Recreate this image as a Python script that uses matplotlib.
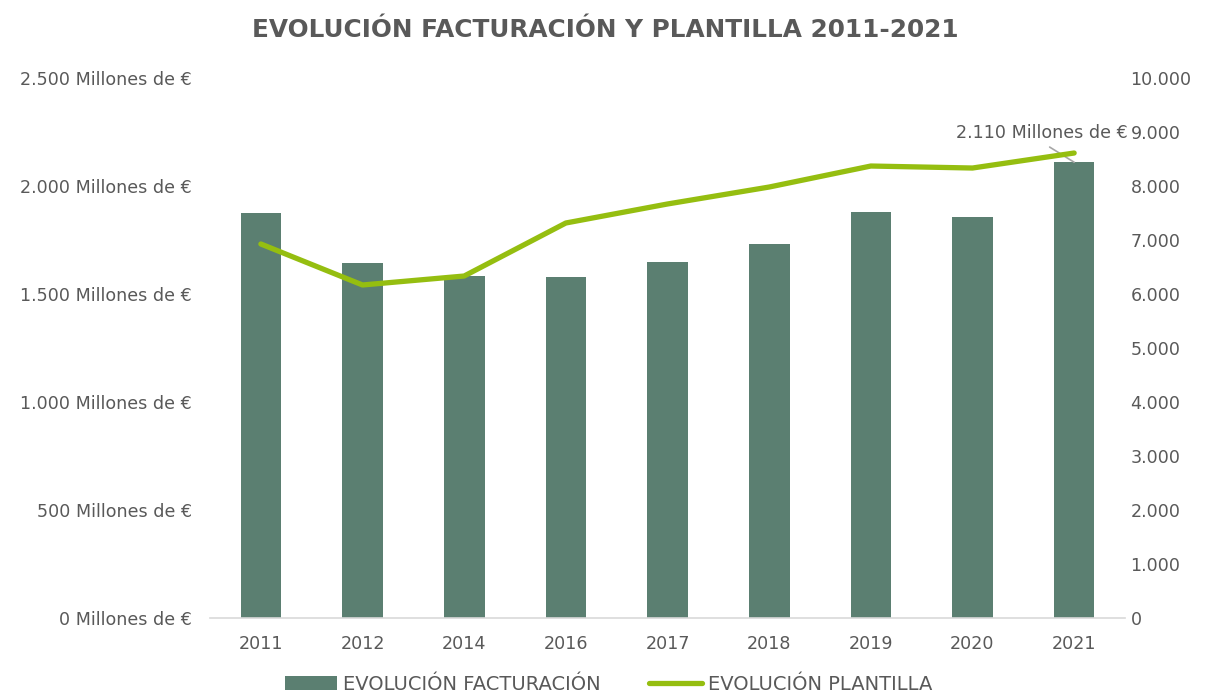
import matplotlib
matplotlib.use("Agg")
import matplotlib.pyplot as plt
import numpy as np
from matplotlib.ticker import FuncFormatter

years = ["2011", "2012", "2014", "2016", "2017", "2018", "2019", "2020", "2021"]
facturacion = [1875, 1643, 1583, 1579, 1648, 1731, 1880, 1856, 2110]  # millones de euros
plantilla = [6926, 6167, 6333, 7315, 7667, 7981, 8370, 8333, 8611]

bar_color = "#5B7F71"
line_color = "#95BE10"
text_color = "#595959"

plt.rcParams["font.family"] = ["DejaVu Sans"]

fig = plt.figure(figsize=(12.05, 6.99), dpi=100)
ax = fig.add_axes([0.1743, 0.1159, 0.7593, 0.7725])
ax2 = ax.twinx()

x = np.arange(len(years))
bars = ax.bar(x, facturacion, width=0.40, color=bar_color, label="EVOLUCIÓN FACTURACIÓN", zorder=2)
line, = ax2.plot(x, plantilla, color=line_color, lw=3.8, solid_capstyle="round",
                 label="EVOLUCIÓN PLANTILLA", zorder=3)

ax.set_xlim(-0.5, len(years) - 0.5)
ax.set_ylim(0, 2500)
ax2.set_ylim(0, 10000)
ax.set_yticks(np.arange(0, 2501, 500))
ax2.set_yticks(np.arange(0, 10001, 1000))

def thousands(v):
    return f"{int(v):,}".replace(",", ".")

ax.yaxis.set_major_formatter(FuncFormatter(lambda v, p: f"{thousands(v)} Millones de €"))
ax2.yaxis.set_major_formatter(FuncFormatter(lambda v, p: thousands(v)))
ax.set_xticks(x)
ax.set_xticklabels(years)

for a in (ax, ax2):
    for s in ("top", "left", "right", "bottom"):
        a.spines[s].set_visible(False)
    a.tick_params(length=0, colors=text_color, labelsize=12.6)
ax.spines["bottom"].set_visible(True)
ax.spines["bottom"].set_color("#D9D9D9")
ax.spines["bottom"].set_linewidth(1.2)
ax.tick_params(axis="x", pad=12)
ax.tick_params(axis="y", pad=13)
ax2.tick_params(axis="y", pad=4)

# data label on last bar
ax.annotate(f"{thousands(facturacion[-1])} Millones de €",
            xy=(x[-1], facturacion[-1]), xytext=(x[-1] - 0.32, 2245),
            ha="center", va="center", fontsize=12.6, color=text_color,
            arrowprops=dict(arrowstyle="-", color="#A6A6A6", lw=1.2,
                            shrinkA=3, shrinkB=0, relpos=(0.5, 0.0)))

fig.text(0.502, 0.957, "EVOLUCIÓN FACTURACIÓN Y PLANTILLA 2011-2021", ha="center", va="center",
         fontsize=17.8, fontweight="bold", color=text_color)

fig.legend(handles=[bars, line], loc="center", bbox_to_anchor=(0.505, 0.021), ncol=2,
           frameon=False, fontsize=14, labelcolor=text_color, handlelength=2.7,
           columnspacing=2.5, handletextpad=0.3)

fig.savefig("out.png", dpi=100)
